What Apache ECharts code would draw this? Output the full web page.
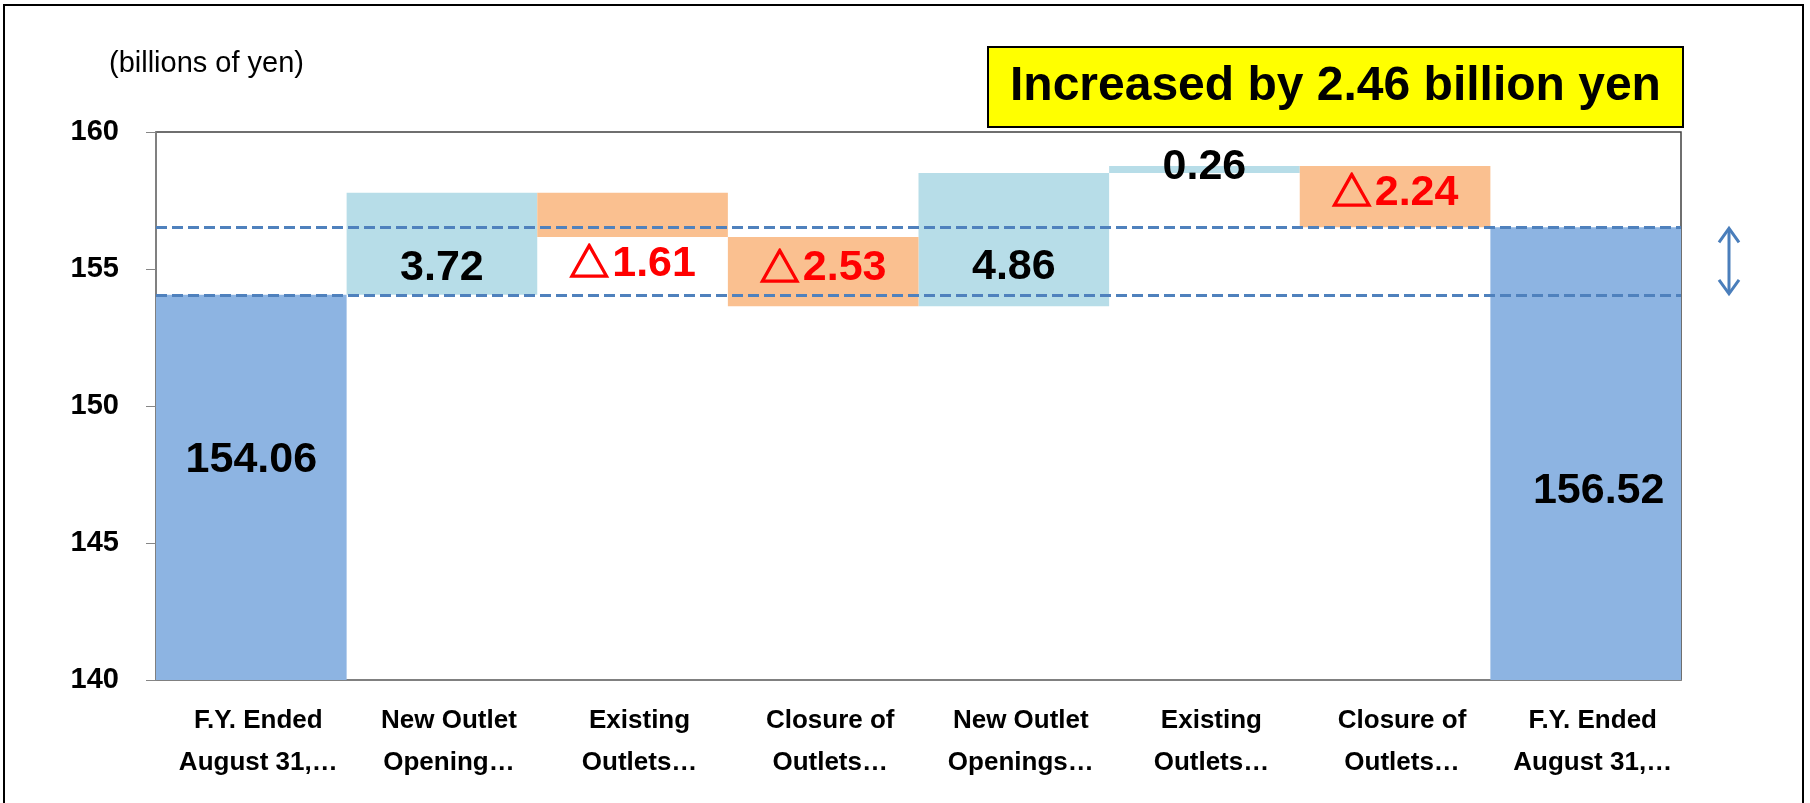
<!DOCTYPE html>
<html>
<head>
<meta charset="utf-8">
<script src="https://cdn.jsdelivr.net/npm/echarts@6/dist/echarts.min.js"></script>
<style>
  html, body { margin: 0; padding: 0; background: #fff; }
  #chart { width: 1810px; height: 803px; }
</style>
</head>
<body>
<div id="chart"></div>
<script>
// data
const categories = [
  'F.Y. Ended\nAugust 31,…',
  'New Outlet\nOpening…',
  'Existing\nOutlets…',
  'Closure of\nOutlets…',
  'New Outlet\nOpenings…',
  'Existing\nOutlets…',
  'Closure of\nOutlets…',
  'F.Y. Ended\nAugust 31,…'
];
const startTotal = 154.06;
const changes = [3.72, -1.61, -2.53, 4.86, 0.26, -2.24];
const endTotal = 156.52;
const yMin = 140;
const yMax = 160;
const yStep = 5;
const unitText = '(billions of yen)';
const headline = 'Increased by 2.46 billion yen';

// label nudges (px) so numbers sit where they do in the original
const labelOffsets = [[0, -27], [0, 24], [0, 49], [0, -3], [0, 27], [0, -2], [0, -4], [13, 37]];

const FONT = '"Liberation Sans", Arial, "DejaVu Sans", sans-serif';
const CJK = '"Noto Sans CJK JP", "DejaVu Sans", sans-serif';

// build waterfall stacks
let running = startTotal;
const base = [0];
const totals = [startTotal];
const ups = ['-'];
const downs = ['-'];
changes.forEach(d => {
  if (d >= 0) {
    base.push(running);
    ups.push(d);
    downs.push('-');
  } else {
    base.push(running + d);
    downs.push(-d);
    ups.push('-');
  }
  totals.push('-');
  running += d;
});
base.push(0);
totals.push(endTotal);
ups.push('-');
downs.push('-');

const withOffsets = arr => arr.map((v, i) =>
  v === '-' ? '-' : { value: v, label: { offset: labelOffsets[i] } });

const labelBase = {
  show: true,
  position: 'inside',
  fontFamily: FONT,
  fontWeight: 'bold',
  fontSize: 43
};

const chart = echarts.init(document.getElementById('chart'));

const option = {
  animation: false,
  title: [
    {
      text: unitText,
      left: 109,
      top: 49,
      padding: 0,
      textStyle: { fontFamily: FONT, fontWeight: 'normal', fontSize: 29, color: '#000' }
    },
    {
      text: headline,
      left: 988,
      top: 47,
      padding: [12, 22],
      backgroundColor: '#ffff00',
      borderColor: '#000',
      borderWidth: 2,
      textStyle: { fontFamily: FONT, fontWeight: 'bold', fontSize: 48, lineHeight: 56, color: '#000' }
    }
  ],
  grid: {
    left: 156,
    right: 129,
    top: 132,
    bottom: 123,
    show: true,
    borderColor: '#404040',
    borderWidth: 1.5
  },
  xAxis: {
    type: 'category',
    data: categories,
    axisLine: { lineStyle: { color: '#868686', width: 1.5 } },
    axisTick: { length: 10, lineStyle: { color: '#868686' } },
    axisLabel: {
      interval: 0,
      margin: 20,
      fontFamily: FONT,
      fontWeight: 'bold',
      fontSize: 26,
      lineHeight: 42,
      color: '#000',
      padding: [0, 0, 0, 14]
    }
  },
  yAxis: {
    type: 'value',
    min: yMin,
    max: yMax,
    interval: yStep,
    axisLine: { show: true, lineStyle: { color: '#868686', width: 1.5 } },
    axisTick: { show: true, length: 10, lineStyle: { color: '#868686' } },
    splitLine: { show: false },
    axisLabel: {
      margin: 37,
      fontFamily: FONT,
      fontWeight: 'bold',
      fontSize: 29,
      color: '#000'
    }
  },
  series: [
    {
      name: 'base',
      type: 'bar',
      stack: 'w',
      barCategoryGap: '0%',
      itemStyle: { color: 'transparent' },
      silent: true,
      data: base
    },
    {
      name: 'total',
      type: 'bar',
      stack: 'w',
      barCategoryGap: '0%',
      itemStyle: { color: '#8db4e2' },
      label: { ...labelBase, color: '#000', formatter: p => p.value.toFixed(2) },
      data: withOffsets(totals),
      markLine: {
        silent: true,
        symbol: 'none',
        label: { show: false },
        lineStyle: { color: '#4f81bd', width: 3, type: [11, 5] },
        data: [{ yAxis: startTotal }, { yAxis: endTotal }]
      }
    },
    {
      name: 'increase',
      type: 'bar',
      stack: 'w',
      barCategoryGap: '0%',
      itemStyle: { color: '#b7dde8' },
      label: { ...labelBase, color: '#000', formatter: p => p.value.toFixed(2) },
      data: withOffsets(ups)
    },
    {
      name: 'decrease',
      type: 'bar',
      stack: 'w',
      barCategoryGap: '0%',
      itemStyle: { color: '#fac090' },
      label: {
        ...labelBase,
        color: '#ff0000',
        formatter: p => '{t|△}' + p.value.toFixed(2),
        rich: {
          t: {
            fontFamily: CJK,
            fontWeight: 'bold',
            fontSize: 40,
            color: '#ff0000',
            textBorderColor: '#ff0000',
            textBorderWidth: 1.5,
            padding: [0, 3, 4, 0]
          }
        }
      },
      data: withOffsets(downs)
    }
  ]
};

chart.setOption(option);

// outer frame and the double-headed arrow between the two totals
const yTop = chart.convertToPixel({ yAxisIndex: 0 }, endTotal);
const yBot = chart.convertToPixel({ yAxisIndex: 0 }, startTotal);
const ax = 1729;
const arrowStyle = { stroke: '#4a7ebb', lineWidth: 3, fill: null };
chart.setOption({
  graphic: [
    {
      type: 'rect',
      shape: { x: 4, y: 5, width: 1799, height: 840 },
      style: { fill: null, stroke: '#000', lineWidth: 2 },
      silent: true
    },
    {
      type: 'line',
      shape: { x1: ax, y1: yTop + 2, x2: ax, y2: yBot - 2 },
      style: arrowStyle,
      silent: true
    },
    {
      type: 'polyline',
      shape: { points: [[ax - 10, yTop + 15], [ax, yTop + 1], [ax + 10, yTop + 15]] },
      style: arrowStyle,
      silent: true
    },
    {
      type: 'polyline',
      shape: { points: [[ax - 10, yBot - 15], [ax, yBot - 1], [ax + 10, yBot - 15]] },
      style: arrowStyle,
      silent: true
    }
  ]
});
</script>
</body>
</html>
